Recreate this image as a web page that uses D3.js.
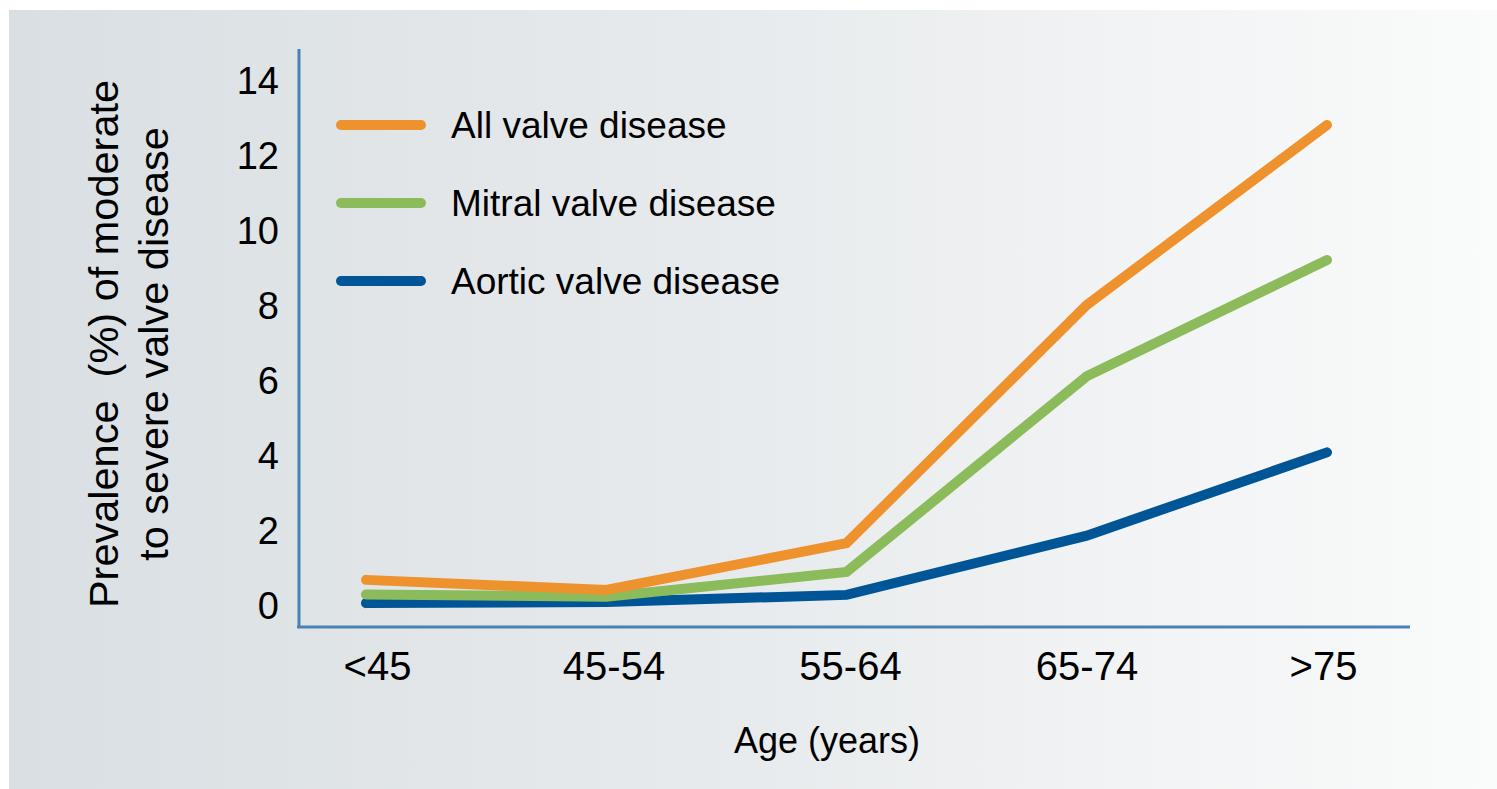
<!DOCTYPE html>
<html>
<head>
<meta charset="utf-8">
<script src="https://cdn.jsdelivr.net/npm/d3@7"></script>
<style>
  html, body { margin: 0; padding: 0; background: #ffffff; }
  svg { display: block; }
  text { font-family: "Liberation Sans", Arial, sans-serif; fill: #000; }
</style>
</head>
<body>
<script>
const categories = ["<45", "45-54", "55-64", "65-74", ">75"];
const allValve    = [0.67, 0.4, 1.65, 8.0, 12.8];
const mitralValve = [0.28, 0.22, 0.88, 6.1, 9.2];
const aorticValve = [0.05, 0.08, 0.27, 1.85, 4.07];
const yTicks = [0, 2, 4, 6, 8, 10, 12, 14];
const seriesNames = ["All valve disease", "Mitral valve disease", "Aortic valve disease"];
const seriesColors = ["#ee922e", "#8bbb5a", "#005596"];

const W = 1497, H = 789;
const svg = d3.select("body").append("svg").attr("width", W).attr("height", H);

const defs = svg.append("defs");
const grad = defs.append("linearGradient").attr("id", "bg").attr("x1", "0").attr("x2", "1").attr("y1", "0").attr("y2", "0");
grad.append("stop").attr("offset", "0").attr("stop-color", "#d9dfe3");
grad.append("stop").attr("offset", "0.5").attr("stop-color", "#e8ebed");
grad.append("stop").attr("offset", "1").attr("stop-color", "#fafbfb");
svg.append("rect").attr("x", 9).attr("y", 10).attr("width", W - 9).attr("height", H - 10).attr("fill", "url(#bg)");

const x = d3.scalePoint().domain(categories).range([366, 1327]);
const xLab = d3.scalePoint().domain(categories).range([377, 1323]);
const y = d3.scaleLinear().domain([0, 14]).range([605, 80]);

const axisColor = "#4a82b4";
svg.append("line").attr("x1", 299).attr("x2", 299).attr("y1", 49).attr("y2", 628)
  .attr("stroke", axisColor).attr("stroke-width", 3);
svg.append("line").attr("x1", 297).attr("x2", 1410).attr("y1", 627).attr("y2", 627)
  .attr("stroke", axisColor).attr("stroke-width", 3);

// y tick labels
const yAxis = d3.axisLeft(y).tickValues(yTicks).tickSize(0).tickPadding(0).tickFormat(d3.format("d"));
const gy = svg.append("g").attr("transform", "translate(279,0)").call(yAxis);
gy.select(".domain").remove();
gy.selectAll("text").style("font-size", "38px").attr("dy", "0.36em").attr("fill", "#000");

// x tick labels
const xAxis = d3.axisBottom(xLab).tickSize(0).tickPadding(0);
const gx = svg.append("g").attr("transform", "translate(0,651)").call(xAxis);
gx.select(".domain").remove();
gx.selectAll("text").style("font-size", "40px").attr("dy", "0.72em").attr("fill", "#000");

// axis titles
svg.append("text").attr("x", 827).attr("y", 753).attr("text-anchor", "middle")
  .style("font-size", "36px").text("Age (years)");
const yt = svg.append("text").attr("transform", "translate(118,344) rotate(-90)")
  .attr("text-anchor", "middle").style("font-size", "41.5px");
yt.append("tspan").attr("x", 0).attr("y", 0).text("Prevalence  (%) of moderate").style("white-space", "pre");
yt.append("tspan").attr("x", 0).attr("y", 50).text("to severe valve disease");

// lines
const seriesData = [allValve, mitralValve, aorticValve];
const line = d3.line().x((d, i) => x(categories[i])).y(d => y(d));
const drawOrder = [2, 1, 0];
drawOrder.forEach(k => {
  svg.append("path").datum(seriesData[k]).attr("d", line)
    .attr("fill", "none").attr("stroke", seriesColors[k]).attr("stroke-width", 10)
    .attr("stroke-linecap", "round").attr("stroke-linejoin", "miter");
});

// legend
const legY = d3.scalePoint().domain(seriesNames).range([125, 281]);
seriesNames.forEach((n, k) => {
  svg.append("line").attr("x1", 341).attr("x2", 421).attr("y1", legY(n)).attr("y2", legY(n))
    .attr("stroke", seriesColors[k]).attr("stroke-width", 10).attr("stroke-linecap", "round");
  svg.append("text").attr("x", 451).attr("y", legY(n)).attr("dy", "0.36em")
    .style("font-size", "37px").text(n);
});
</script>
</body>
</html>
